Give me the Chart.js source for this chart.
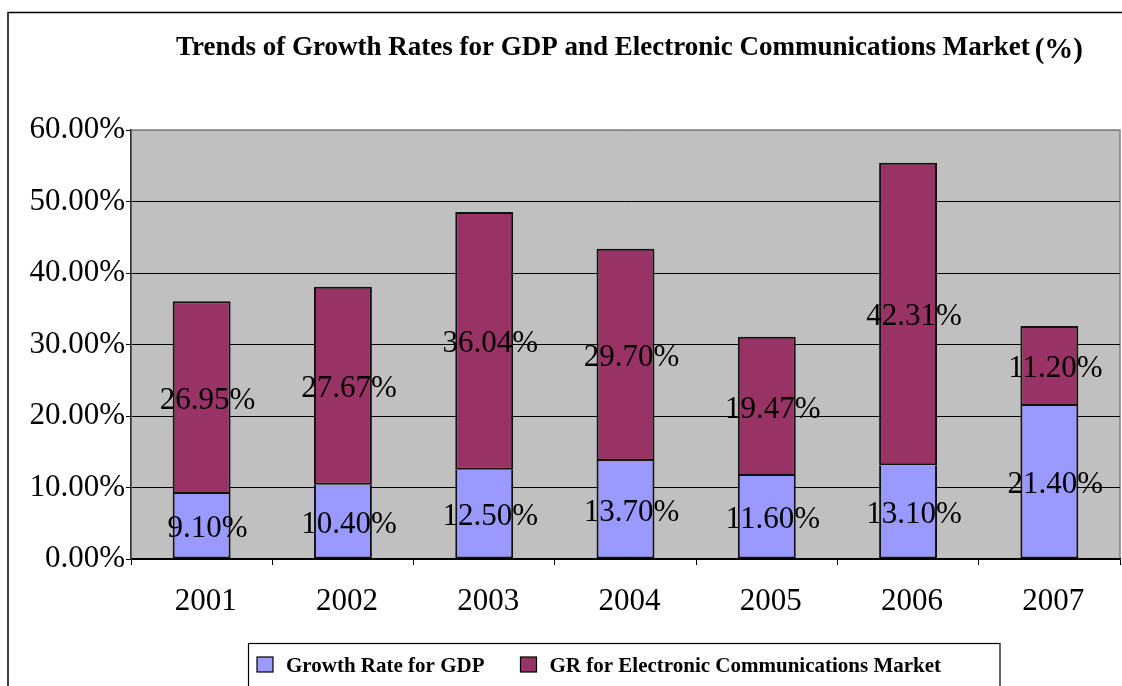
<!DOCTYPE html>
<html>
<head>
<meta charset="utf-8">
<title>Trends of Growth Rates</title>
<script src="https://cdn.jsdelivr.net/npm/chart.js@4.4.1/dist/chart.umd.min.js"></script>
<style>
    html, body { margin: 0; padding: 0; background: #fff; }
    canvas { display: block; }
</style>
</head>
<body>
<canvas id="graficoCrecimiento" width="1122" height="686"></canvas>
<script>
const years = ["2001", "2002", "2003", "2004", "2005", "2006", "2007"];
const gdpRates = [9.10, 10.40, 12.50, 13.70, 11.60, 13.10, 21.40];
const marketRates = [26.95, 27.67, 36.04, 29.70, 19.47, 42.31, 11.20];
const yTickLabels = ["0.00%", "10.00%", "20.00%", "30.00%", "40.00%", "50.00%", "60.00%"];
const seriesNames = ["Growth Rate for GDP", "GR for Electronic Communications Market"];
const seriesColors = ["#9999FF", "#993366"];

const serif = "'Liberation Serif', 'Times New Roman', serif";

// gray plot area plus the frame lines around the figure
const plotBackground = {
    id: "plotBackground",
    beforeDraw(chart) {
        const { ctx, chartArea: a } = chart;
        ctx.save();
        ctx.fillStyle = "#C0C0C0";
        ctx.fillRect(a.left, a.top, a.right - a.left, a.bottom - a.top);
        ctx.strokeStyle = "#808080";
        ctx.lineWidth = 1.5;
        ctx.strokeRect(a.left, a.top, a.right - a.left, a.bottom - a.top);

        ctx.strokeStyle = "#000";
        ctx.lineWidth = 1.5;
        ctx.beginPath();
        ctx.moveTo(8, chart.height);
        ctx.lineTo(8, 12.5);
        ctx.lineTo(chart.width, 12.5);
        ctx.stroke();
        ctx.restore();
    }
};

// value text in the middle of every bar segment
const barLabels = {
    id: "barLabels",
    afterDatasetsDraw(chart) {
        const ctx = chart.ctx;
        ctx.save();
        ctx.font = "31px " + serif;
        ctx.fillStyle = "#000";
        ctx.textAlign = "center";
        ctx.textBaseline = "middle";
        chart.data.datasets.forEach((ds, i) => {
            chart.getDatasetMeta(i).data.forEach((bar, j) => {
                const y = (bar.y + bar.base) / 2 + 3;
                ctx.fillText(ds.data[j].toFixed(2) + "%", bar.x + 6, y);
            });
        });
        ctx.restore();
    }
};

// title with the bigger "(%)" at the end
const chartTitle = {
    id: "chartTitle",
    afterDraw(chart) {
        const ctx = chart.ctx;
        const text = "Trends of Growth Rates for GDP and Electronic Communications Market";
        ctx.save();
        ctx.fillStyle = "#000";
        ctx.textBaseline = "alphabetic";
        ctx.textAlign = "left";
        ctx.font = "bold 27px " + serif;
        ctx.fillText(text, 176, 55);
        const w = ctx.measureText(text).width;
        ctx.font = "bold 29px " + serif;
        ctx.fillText("(%)", 176 + w + 5, 58);
        ctx.restore();
    }
};

// boxed legend under the axis
const boxLegend = {
    id: "boxLegend",
    afterDraw(chart) {
        const ctx = chart.ctx;
        const left = 248.5, top = 643.5, right = 1000;
        ctx.save();
        ctx.strokeStyle = "#000";
        ctx.lineWidth = 1.2;
        ctx.strokeRect(left, top, right - left, chart.height - top + 5);

        ctx.font = "bold 21px " + serif;
        ctx.textBaseline = "alphabetic";
        ctx.textAlign = "left";
        let x = left + 8.5;
        chart.data.datasets.forEach(ds => {
            ctx.fillStyle = ds.backgroundColor;
            ctx.fillRect(x, 657, 16, 15);
            ctx.strokeStyle = "#000";
            ctx.lineWidth = 1.2;
            ctx.strokeRect(x, 657, 16, 15);
            ctx.fillStyle = "#000";
            ctx.fillText(ds.label, x + 29, 672);
            x += 29 + ctx.measureText(ds.label).width + 36;
        });
        ctx.restore();
    }
};

const ctx = document.getElementById("graficoCrecimiento");

new Chart(ctx, {
    type: "bar",
    data: {
        labels: years,
        datasets: [
            {
                label: seriesNames[0],
                data: gdpRates,
                backgroundColor: seriesColors[0],
                borderColor: "#111",
                borderWidth: 2,
                borderSkipped: "top"
            },
            {
                label: seriesNames[1],
                data: marketRates,
                backgroundColor: seriesColors[1],
                borderColor: "#111",
                borderWidth: 2,
                borderSkipped: false
            }
        ]
    },
    options: {
        responsive: false,
        animation: false,
        devicePixelRatio: 1,
        categoryPercentage: 1,
        barPercentage: 0.41,
        layout: {
            padding: { top: 130, right: 2, bottom: 0, left: 0 }
        },
        plugins: {
            legend: { display: false },
            title: { display: false },
            tooltip: { enabled: false }
        },
        scales: {
            x: {
                stacked: true,
                grid: {
                    offset: true,
                    drawOnChartArea: false,
                    tickLength: 6,
                    color: "#000"
                },
                border: { color: "#000", width: 1.5 },
                ticks: {
                    font: { family: serif, size: 31 },
                    color: "#000",
                    padding: 18,
                    labelOffset: 4
                },
                afterFit: scale => { scale.height = 127; }
            },
            y: {
                stacked: true,
                min: 0,
                max: 60,
                ticks: {
                    stepSize: 10,
                    callback: (value, index) => yTickLabels[index],
                    font: { family: serif, size: 31 },
                    color: "#000",
                    padding: 1
                },
                grid: {
                    color: c => (c.tick && c.tick.value === 60 ? "#808080" : "#000"),
                    tickColor: "#000",
                    tickLength: 5,
                    lineWidth: 1
                },
                border: { color: "#333", width: 1.5 },
                afterFit: scale => { scale.width = 131; }
            }
        }
    },
    plugins: [plotBackground, barLabels, chartTitle, boxLegend]
});
</script>
</body>
</html>
